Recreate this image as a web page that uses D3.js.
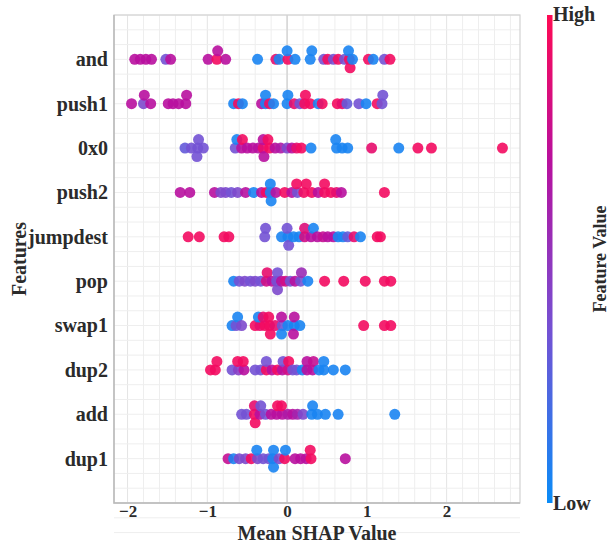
<!DOCTYPE html>
<html>
<head>
<meta charset="utf-8">
<script src="https://cdn.jsdelivr.net/npm/d3@7"></script>
<style>
  html, body { margin: 0; padding: 0; background: #fff; }
  svg { display: block; }
  text { font-family: "Liberation Serif", "Times New Roman", serif; font-weight: bold; fill: #2b2b2b; }
</style>
</head>
<body>
<svg id="chart" width="611" height="543"></svg>
<script>
// Feature names, top to bottom
const features = ["and", "push1", "0x0", "push2", "jumpdest", "pop", "swap1", "dup2", "add", "dup1"];

// SHAP values per feature, with the normalised feature value of each sample (0 = low, 1 = high)
const shapAnd = [-1.91, -1.84, -1.77, -1.70, -1.52, -1.46, -0.99, -0.88, -0.87, -0.77, -0.37, -0.14, -0.10, 0.01, 0.00, 0.10, 0.29, 0.31, 0.46, 0.51, 0.58, 0.64, 0.72, 0.78, 0.77, 0.79, 0.82, 1.02, 1.08, 1.22, 1.29];
const featAnd = [0.7, 0.7, 0.7, 0.7, 0.35, 0.7, 0.7, 0.95, 0.7, 0.7, 0.05, 0.9, 0.05, 0.95, 0.05, 0.05, 0.05, 0.05, 0.35, 0.95, 0.35, 0.95, 0.35, 0.95, 0.05, 0.95, 0.05, 0.95, 0.05, 0.35, 0.95];

const shapPush1 = [-1.95, -1.80, -1.79, -1.71, -1.49, -1.43, -1.36, -1.27, -1.26, -0.67, -0.61, -0.56, -0.32, -0.27, -0.27, -0.22, -0.17, 0.00, 0.01, 0.09, 0.16, 0.22, 0.23, 0.29, 0.39, 0.44, 0.63, 0.69, 0.75, 0.90, 0.99, 1.13, 1.19, 1.20];
const featPush1 = [0.7, 0.4, 0.7, 0.7, 0.7, 0.7, 0.7, 0.7, 0.7, 0.05, 0.95, 0.05, 0.7, 0.05, 0.05, 0.95, 0.05, 0.05, 0.05, 0.9, 0.35, 0.95, 0.95, 0.95, 0.05, 0.95, 0.95, 0.9, 0.3, 0.35, 0.05, 0.95, 0.35, 0.35];

const shap0x0 = [-1.28, -1.20, -1.12, -1.11, -1.13, -1.05, -0.65, -0.63, -0.57, -0.56, -0.50, -0.43, -0.36, -0.30, -0.30, -0.29, -0.22, -0.24, -0.15, -0.08, 0.00, 0.06, 0.12, 0.18, 0.30, 0.62, 0.61, 0.69, 0.76, 1.06, 1.40, 1.64, 1.81, 2.70];
const feat0x0 = [0.3, 0.35, 0.35, 0.35, 0.35, 0.35, 0.35, 0.05, 0.7, 0.95, 0.7, 0.7, 0.7, 0.9, 0.7, 0.7, 0.95, 0.95, 0.7, 0.65, 0.4, 0.7, 0.9, 0.95, 0.05, 0.05, 0.05, 0.05, 0.05, 0.9, 0.05, 0.95, 0.95, 0.95];

const shapPush2 = [-1.34, -1.22, -0.91, -0.83, -0.77, -0.70, -0.62, -0.52, -0.42, -0.32, -0.26, -0.21, -0.21, -0.20, -0.14, -0.03, 0.06, 0.13, 0.12, 0.21, 0.24, 0.31, 0.39, 0.47, 0.47, 0.55, 0.62, 0.68, 1.22];
const featPush2 = [0.7, 0.7, 0.7, 0.4, 0.4, 0.35, 0.4, 0.7, 0.05, 0.7, 0.95, 0.05, 0.05, 0.05, 0.7, 0.95, 0.7, 0.35, 0.95, 0.95, 0.95, 0.95, 0.7, 0.95, 0.95, 0.95, 0.9, 0.7, 0.95];

const shapJump = [-1.24, -1.10, -0.79, -0.73, -0.28, -0.27, -0.07, 0.01, 0.00, 0.02, 0.08, 0.15, 0.22, 0.22, 0.30, 0.33, 0.38, 0.45, 0.51, 0.58, 0.64, 0.70, 0.76, 0.84, 0.92, 1.13, 1.17];
const featJump = [0.95, 0.95, 0.95, 0.95, 0.35, 0.35, 0.05, 0.05, 0.35, 0.35, 0.05, 0.05, 0.8, 0.85, 0.7, 0.05, 0.7, 0.75, 0.7, 0.7, 0.05, 0.05, 0.3, 0.9, 0.05, 0.95, 0.95];

const shapPop = [-0.67, -0.60, -0.53, -0.46, -0.40, -0.33, -0.26, -0.25, -0.19, -0.13, -0.12, -0.12, -0.07, -0.02, 0.04, 0.10, 0.17, 0.18, 0.26, 0.47, 0.71, 0.98, 1.22, 1.30];
const featPop = [0.05, 0.35, 0.4, 0.35, 0.4, 0.35, 0.8, 0.9, 0.7, 0.35, 0.35, 0.4, 0.7, 0.8, 0.35, 0.7, 0.35, 0.55, 0.05, 0.95, 0.95, 0.95, 0.95, 0.95];

const shapSwap1 = [-0.69, -0.64, -0.62, -0.57, -0.40, -0.34, -0.36, -0.28, -0.30, -0.22, -0.23, -0.21, -0.15, -0.06, -0.07, -0.07, 0.01, 0.09, 0.09, 0.08, 0.16, 0.96, 1.22, 1.30];
const featSwap1 = [0.05, 0.35, 0.05, 0.4, 0.95, 0.9, 0.05, 0.95, 0.9, 0.95, 0.95, 0.95, 0.9, 0.35, 0.7, 0.05, 0.05, 0.05, 0.7, 0.7, 0.05, 0.95, 0.95, 0.95];

const shapDup2 = [-0.96, -0.90, -0.88, -0.69, -0.61, -0.62, -0.54, -0.55, -0.40, -0.33, -0.26, -0.26, -0.19, -0.12, -0.06, -0.05, 0.01, 0.02, 0.07, 0.12, 0.19, 0.25, 0.25, 0.32, 0.33, 0.40, 0.46, 0.46, 0.58, 0.73];
const featDup2 = [0.95, 0.95, 0.95, 0.35, 0.45, 0.95, 0.7, 0.95, 0.35, 0.35, 0.95, 0.35, 0.7, 0.95, 0.7, 0.35, 0.8, 0.95, 0.35, 0.35, 0.05, 0.7, 0.7, 0.7, 0.75, 0.05, 0.05, 0.05, 0.05, 0.05];

const shapAdd = [-0.57, -0.51, -0.41, -0.41, -0.40, -0.34, -0.33, -0.27, -0.20, -0.13, -0.12, -0.06, -0.07, 0.01, 0.07, 0.13, 0.20, 0.31, 0.32, 0.38, 0.48, 0.64, 1.35];
const featAdd = [0.35, 0.35, 0.95, 0.9, 0.95, 0.7, 0.35, 0.35, 0.7, 0.7, 0.95, 0.7, 0.95, 0.65, 0.7, 0.6, 0.4, 0.05, 0.05, 0.05, 0.05, 0.05, 0.05];

const shapDup1 = [-0.74, -0.67, -0.60, -0.52, -0.45, -0.37, -0.38, -0.30, -0.23, -0.18, -0.17, -0.17, -0.10, -0.03, -0.02, 0.10, 0.17, 0.24, 0.30, 0.29, 0.73];
const featDup1 = [0.75, 0.05, 0.4, 0.4, 0.95, 0.4, 0.05, 0.35, 0.35, 0.05, 0.05, 0.05, 0.4, 0.95, 0.05, 0.7, 0.7, 0.7, 0.95, 0.95, 0.7];

const shapRows = [shapAnd, shapPush1, shap0x0, shapPush2, shapJump, shapPop, shapSwap1, shapDup2, shapAdd, shapDup1];
const featRows = [featAnd, featPush1, feat0x0, featPush2, featJump, featPop, featSwap1, featDup2, featAdd, featDup1];

const xTicks = [-2, -1, 0, 1, 2];
const xDomain = [-2.17, 2.92];

const svg = d3.select("#chart");
const margin = { left: 114, right: 91, top: 15, bottom: 40 };
const W = 611, H = 543;
const x0 = margin.left, x1 = W - margin.right, y0 = margin.top, y1 = H - margin.bottom;

const x = d3.scaleLinear().domain(xDomain).range([x0, x1]);
const y = d3.scalePoint().domain(features).range([y0, y1]).padding(1);
const rowStep = y.step();

const color = d3.scaleLinear()
  .domain([0, 0.35, 0.7, 1])
  .range(["#0a8cf7", "#7352d4", "#b8109e", "#ff0a54"])
  .interpolate(d3.interpolateRgb);

// minor grid
const grid = svg.append("g");
const xMinor = d3.range(-2.2, 3.0, 0.2).map(v => +v.toFixed(2)).filter(v => v > xDomain[0] && v < xDomain[1]);
grid.selectAll("line.vx").data(xMinor).join("line")
  .attr("x1", d => x(d)).attr("x2", d => x(d)).attr("y1", y0).attr("y2", y1)
  .attr("stroke", d => Math.abs(Math.round(d) - d) < 1e-6 ? "#e4e4e4" : "#eeeeee").attr("stroke-width", 1);
const yMinor = d3.range(0, features.length + 2 + 1e-6, 1 / 3);
grid.selectAll("line.hy").data(yMinor).join("line")
  .attr("x1", x0).attr("x2", x1)
  .attr("y1", d => y0 + d * rowStep).attr("y2", d => y0 + d * rowStep)
  .attr("stroke", "#eeeeee").attr("stroke-width", 1);

// zero line
svg.append("line").attr("x1", x(0)).attr("x2", x(0)).attr("y1", y0).attr("y2", y1)
  .attr("stroke", "#cfcfcf").attr("stroke-width", 1.2);

// frame
svg.append("rect").attr("x", x0).attr("y", y0).attr("width", x1 - x0).attr("height", y1 - y0)
  .attr("fill", "none").attr("stroke", "#d2d2d2").attr("stroke-width", 1.2);
svg.append("path").attr("d", `M${x0},${y0}V${y1}H${x1}`)
  .attr("fill", "none").attr("stroke", "#b9b9b9").attr("stroke-width", 1.5);

// beeswarm layout: stack colliding points alternately above and below the row
const layerStep = 8.5, thr = 0.035;
const order = [0, 1, -1, 2, -2, 3, -3];
const points = [];
features.forEach((f, i) => {
  const placed = [];
  shapRows[i].forEach((v, j) => {
    let layer = 0;
    for (const k of order) {
      if (!placed.some(p => p.k === k && Math.abs(p.v - v) < thr)) { layer = k; break; }
    }
    placed.push({ v, k: layer });
    points.push({ f, v, c: featRows[i][j], k: layer });
  });
});

svg.append("g").selectAll("circle").data(points).join("circle")
  .attr("cx", d => x(d.v))
  .attr("cy", d => y(d.f) - d.k * layerStep)
  .attr("r", 5.5)
  .attr("fill", d => color(d.c))
  .attr("fill-opacity", 0.9);

// axes
const xAxis = svg.append("g").attr("transform", `translate(0,${y1})`)
  .call(d3.axisBottom(x).tickValues(xTicks).tickSize(0).tickPadding(2).tickFormat(d3.format("d")));
xAxis.select(".domain").remove();
xAxis.selectAll("text").style("font-size", "17px").attr("fill", "#2b2b2b")
  .style("font-family", "'Liberation Serif', serif").style("font-weight", "bold");

const yAxis = svg.append("g").attr("transform", `translate(${x0},0)`)
  .call(d3.axisLeft(y).tickSize(0).tickPadding(6));
yAxis.select(".domain").remove();
yAxis.selectAll("text").style("font-size", "20px").attr("fill", "#2b2b2b")
  .style("font-family", "'Liberation Serif', serif").style("font-weight", "bold");

svg.append("text").attr("x", (x0 + x1) / 2).attr("y", 540).attr("text-anchor", "middle")
  .style("font-size", "20px").text("Mean SHAP Value");
svg.append("text").attr("transform", `translate(26,${(y0 + y1) / 2}) rotate(-90)`).attr("text-anchor", "middle")
  .style("font-size", "20px").text("Features");

// colour bar
const defs = svg.append("defs");
const grad = defs.append("linearGradient").attr("id", "cbar").attr("x1", 0).attr("y1", 1).attr("x2", 0).attr("y2", 0);
d3.range(0, 1.0001, 0.05).forEach(t => grad.append("stop").attr("offset", t).attr("stop-color", color(t)));
svg.append("rect").attr("x", 547).attr("y", y0).attr("width", 5.5).attr("height", y1 - y0).attr("fill", "url(#cbar)");
svg.append("text").attr("x", 553).attr("y", 21).style("font-size", "20px").text("High");
svg.append("text").attr("x", 553).attr("y", 510).style("font-size", "20px").text("Low");
svg.append("text").attr("transform", `translate(606,${(y0 + y1) / 2}) rotate(-90)`).attr("text-anchor", "middle")
  .style("font-size", "18px").text("Feature Value");
</script>
</body>
</html>
